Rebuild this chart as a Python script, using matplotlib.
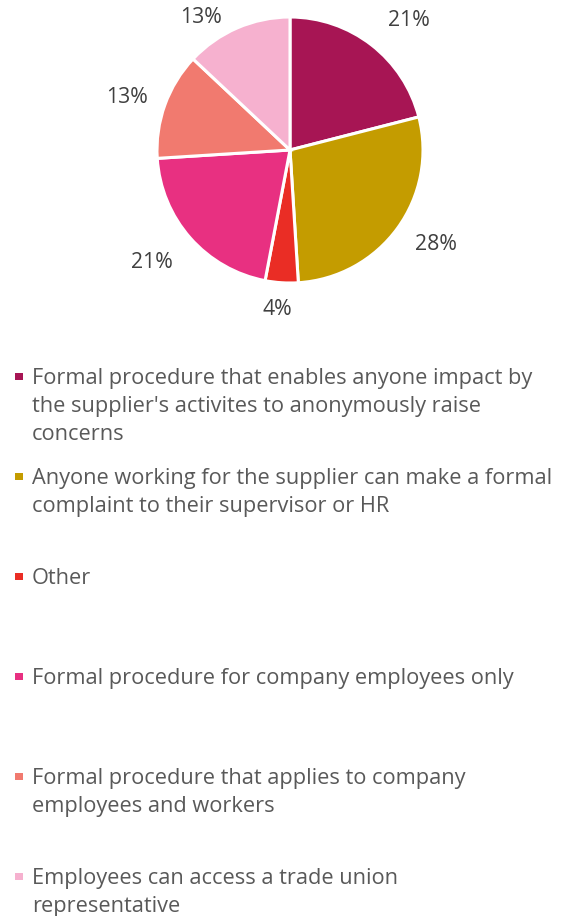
import math
import matplotlib
matplotlib.use("Agg")
import matplotlib.pyplot as plt
from matplotlib.patches import Rectangle

# Share of responses per grievance mechanism (percent)
categories = [
    "Formal procedure that enables anyone impact by\nthe supplier's activites to anonymously raise\nconcerns",
    "Anyone working for the supplier can make a formal\ncomplaint to their supervisor or HR",
    "Other",
    "Formal procedure for company employees only",
    "Formal procedure that applies to company\nemployees and workers",
    "Employees can access a trade union\nrepresentative",
]
shares = [21, 28, 4, 21, 13, 13]
colors = ["#A71554", "#C49C00", "#EA2D25", "#E83081", "#F17A6F", "#F6B1CF"]

# Data-label placement (radius in pie radii, angular nudge in degrees)
label_radius = [1.32, 1.31, 1.20, 1.34, 1.29, 1.20]
label_nudge = [-4.7, 3.0, -1.0, -2.4, 2.0, 10.6]

W, H = 564, 916
fig = plt.figure(figsize=(W / 100, H / 100), dpi=100)
fig.patch.set_facecolor("white")

font = "Open Sans"
text_color = "#595959"

# Pie placed by pixel geometry: centre and radius
cx, cy, r = 290, 150, 133
ax = fig.add_axes([(cx - r) / W, (H - cy - r) / H, 2 * r / W, 2 * r / H])
wedges, _ = ax.pie(
    shares,
    colors=colors,
    startangle=90,
    counterclock=False,
    radius=1.0,
    wedgeprops=dict(edgecolor="white", linewidth=2.2),
)
for w, val, rad, nudge in zip(wedges, shares, label_radius, label_nudge):
    ang = math.radians((w.theta1 + w.theta2) / 2 + nudge)
    ax.text(rad * math.cos(ang), rad * math.sin(ang), f"{val}%",
            ha="center", va="center", fontfamily=font, fontsize=15.3,
            color="#404040")
ax.set_xlim(-1, 1)
ax.set_ylim(-1, 1)
ax.set_aspect("equal")
ax.axis("off")

# Legend drawn as fixed-pitch slots, one per category
base0, pitch, line_h = 384, 100, 28
fs = 15.7
for i, (label, col) in enumerate(zip(categories, colors)):
    by = base0 + i * pitch
    sq = 7.5
    mcy = by - 7.5
    fig.patches.append(Rectangle((15 / W, 1 - (mcy + sq / 2) / H), sq / W, sq / H,
                                 transform=fig.transFigure, facecolor=col,
                                 edgecolor="none"))
    for j, line in enumerate(label.split("\n")):
        fig.text(32 / W, 1 - (by + j * line_h) / H, line, fontfamily=font,
                 fontsize=fs, color=text_color, ha="left", va="baseline")

fig.savefig("out.png", dpi=100, facecolor="white")
